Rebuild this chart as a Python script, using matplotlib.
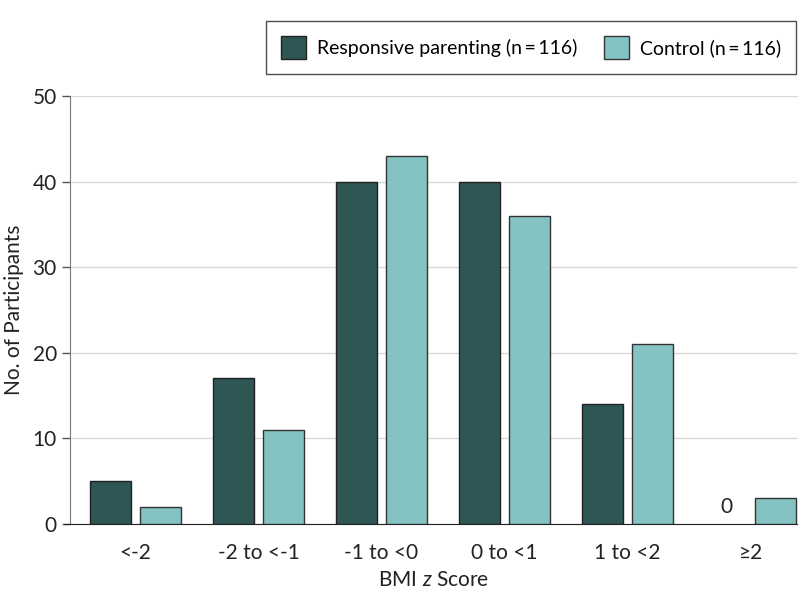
import numpy as np
import matplotlib
matplotlib.use("Agg")
import matplotlib.pyplot as plt

plt.rcParams['font.family'] = ['Lato', 'DejaVu Sans']
plt.rcParams['mathtext.fontset'] = 'custom'
plt.rcParams['mathtext.it'] = 'Lato:italic'

# data
categories = ['<-2', '-2 to <-1', '-1 to <0', '0 to <1', '1 to <2', '≥2']
responsive = [5, 17, 40, 40, 14, 0]
control = [2, 11, 43, 36, 21, 3]
labels = ['Responsive parenting (n\u2009=\u2009116)', 'Control (n\u2009=\u2009116)']

dark = '#2d5655'
light = '#85c3c3'

fig = plt.figure(figsize=(7.98, 6.09), dpi=100)
ax = fig.add_axes([70 / 798, 85 / 609, 728 / 798, 428 / 609])

x = np.arange(len(categories))
w = 0.333
lw1 = [1 if v > 0 else 0 for v in responsive]
ax.bar(x - 0.2, responsive, w, color=dark, edgecolor='#222222', linewidth=lw1, label=labels[0], zorder=3)
ax.bar(x + 0.2, control, w, color=light, edgecolor='#333333', linewidth=1, label=labels[1], zorder=3)

# zero label for missing bar
for xi, v in zip(x, responsive):
    if v == 0:
        ax.text(xi - 0.2, 0.8, '0', ha='center', va='bottom', fontsize=15, color='#222222')

ax.set_xlim(-0.533, -0.533 + 728 / 123)
ax.set_ylim(0, 50)
ax.set_yticks([0, 10, 20, 30, 40, 50])
ax.set_xticks(x)
ax.set_xticklabels(categories)
ax.tick_params(axis='x', length=0, labelsize=15, pad=14, colors='#222222')
ax.tick_params(axis='y', length=6, width=1, labelsize=15, colors='#222222', color='#555555')

ax.yaxis.grid(True, color='#d9d9d9', linewidth=1, zorder=0)
ax.set_axisbelow(True)

for s in ['top', 'right']:
    ax.spines[s].set_visible(False)
ax.spines['left'].set_color('#777777')
ax.spines['bottom'].set_color('#222222')
ax.spines['bottom'].set_bounds(-0.58, 5.386)

ax.set_ylabel('No. of Participants', fontsize=15, color='#222222', labelpad=6)
ax.set_xlabel('BMI $\\it{z}$ Score', fontsize=15, color='#222222', labelpad=5)

leg = ax.legend(loc='upper right', bbox_to_anchor=(0.997, 1.175), ncol=2, fontsize=14,
                frameon=True, fancybox=False, edgecolor='#222222', handlelength=1.3,
                handleheight=1.5, columnspacing=1.4, borderpad=0.75, handletextpad=0.55,
                borderaxespad=0)
leg.get_frame().set_linewidth(1)

fig.savefig('out.png', dpi=100)
